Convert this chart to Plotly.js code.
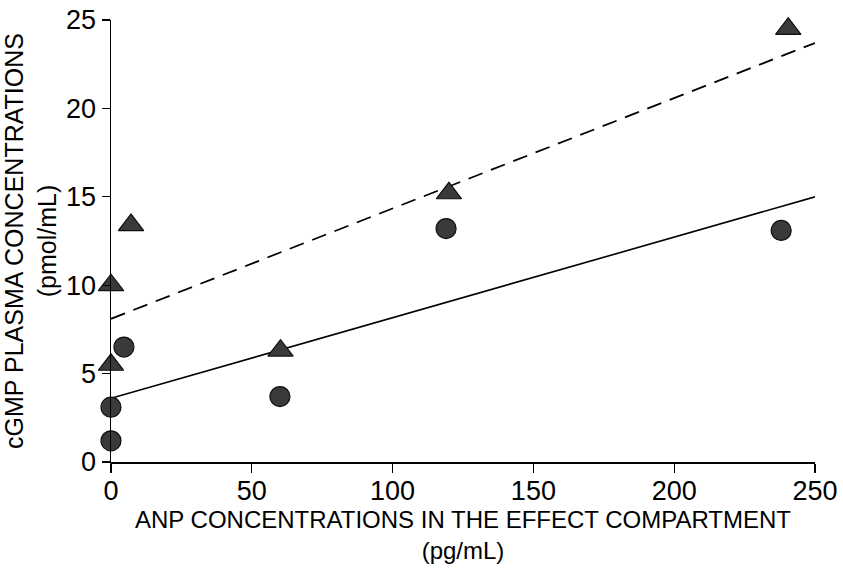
<!DOCTYPE html>
<html>
<head>
<meta charset="utf-8">
<script src="https://cdn.plot.ly/plotly-3.0.1.min.js"></script>
<style>html,body{margin:0;padding:0;background:#fff;}#chart{width:843px;height:569px;}</style>
</head>
<body>
<div id="chart"></div>
<script>
// Circles series
const circleX = [0, 0, 4.6, 60, 119, 238];
const circleY = [1.2, 3.1, 6.5, 3.7, 13.2, 13.1];
// Triangles series
const triX = [0, 0, 7.1, 60.2, 120, 240.5];
const triY = [5.5, 10.0, 13.4, 6.3, 15.2, 24.5];
// Regression lines
const lineX = [0, 250];
const solidY = [3.6, 15.0];
const dashedY = [8.1, 23.7];
// Ticks
const xTicks = [0, 50, 100, 150, 200, 250];
const yTicks = [0, 5, 10, 15, 20, 25];

const traces = [
  {x: lineX, y: solidY, mode: 'lines', line: {color: '#000', width: 1.6}, hoverinfo: 'skip'},
  {x: lineX, y: dashedY, mode: 'lines', line: {color: '#000', width: 1.8, dash: '15px,9px'}, hoverinfo: 'skip'},
  {x: circleX, y: circleY, mode: 'markers', cliponaxis: false,
   marker: {symbol: 'circle', size: 20, color: '#3a3a3a', line: {color: '#111', width: 1.2}}},
  {x: triX, y: triY, mode: 'markers', cliponaxis: false,
   marker: {symbol: 'triangle-up', size: 22, color: '#3a3a3a', line: {color: '#111', width: 1.2}}}
];

const layout = {
  width: 843, height: 569,
  margin: {l: 111, r: 28, t: 20, b: 107},
  paper_bgcolor: '#fff', plot_bgcolor: '#fff',
  showlegend: false,
  font: {family: 'Liberation Sans, Arial, sans-serif', color: '#000'},
  xaxis: {
    range: [0, 250], tickvals: xTicks, ticktext: xTicks.map(String),
    showgrid: false, zeroline: false, showline: true, linecolor: '#000', linewidth: 1.5,
    ticks: 'outside', ticklen: 9, tickwidth: 1.3, tickcolor: '#000',
    ticklabelstandoff: -5,
    tickfont: {size: 27},
    title: {text: 'ANP CONCENTRATIONS IN THE EFFECT COMPARTMENT<br>(pg/mL)', standoff: 4,
            font: {size: 24}}
  },
  yaxis: {
    range: [0, 25], tickvals: yTicks, ticktext: yTicks.map(String),
    showgrid: false, zeroline: false, showline: true, linecolor: '#000', linewidth: 1.5,
    ticks: 'outside', ticklen: 8, tickwidth: 1.3, tickcolor: '#000',
    tickfont: {size: 27},
    title: {text: 'cGMP PLASMA CONCENTRATIONS<br>(pmol/mL)', standoff: 6, font: {size: 25}}
  }
};

Plotly.newPlot('chart', traces, layout, {displayModeBar: false, staticPlot: true});
</script>
</body>
</html>
